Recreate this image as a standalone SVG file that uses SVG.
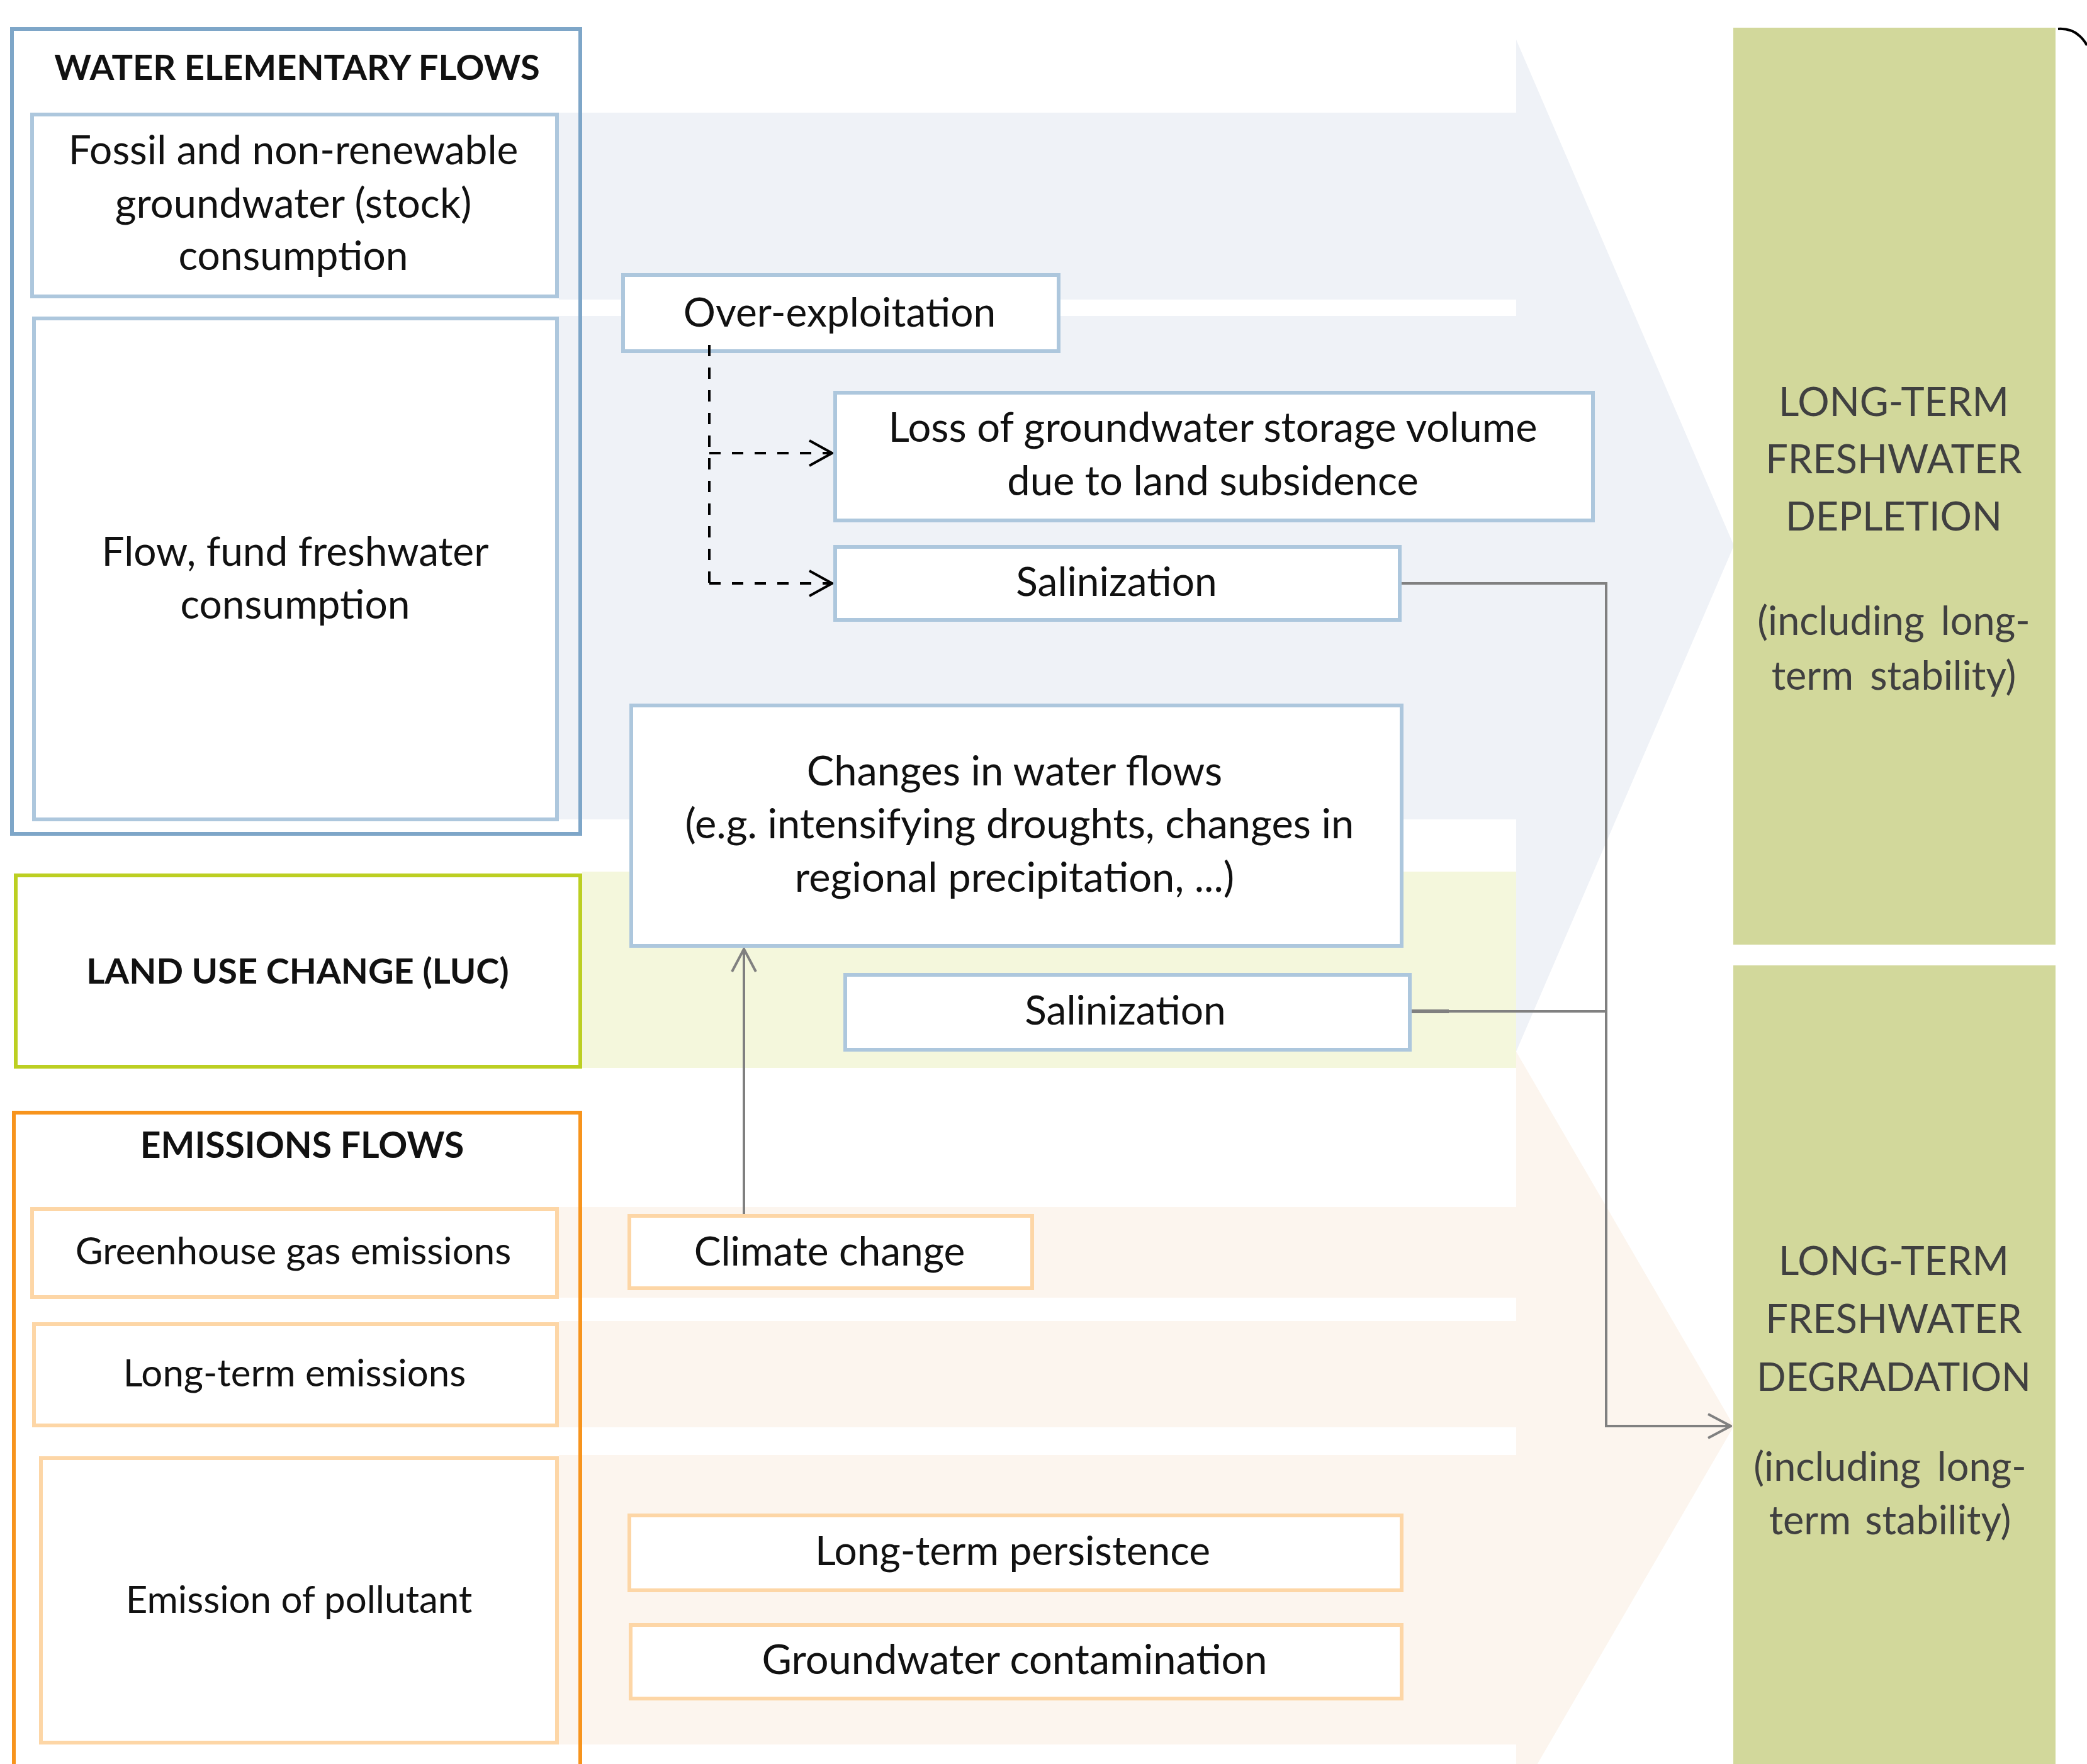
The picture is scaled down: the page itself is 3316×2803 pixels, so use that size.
<svg xmlns="http://www.w3.org/2000/svg" width="3316" height="2803" viewBox="0 0 3316 2803">
<style>
text{font-family:Lato,"Liberation Sans",sans-serif;fill:#111;text-anchor:middle}
.t64{font-size:64px}
.t65{font-size:65px}
.t60{font-size:60px}
.hb{font-size:56px;font-weight:bold}
.rp{font-size:63px;fill:#404040}
.outerBlue{fill:none;stroke:#7ea6c8;stroke-width:6}
.innerBlue{fill:#fff;stroke:#adc7dd;stroke-width:6}
.luc{fill:#fff;stroke:#bccf22;stroke-width:6}
.outerOrange{fill:none;stroke:#f7941d;stroke-width:6}
.innerOrange{fill:#fff;stroke:#fdd6a6;stroke-width:6}
.panel{fill:#d2d89b}
.dash{fill:none;stroke:#000;stroke-width:4;stroke-dasharray:18 18}
.gray{fill:none;stroke:#808080;stroke-width:4}
</style>
<defs>
<marker id="openBlack" viewBox="0 0 40 44" refX="38" refY="22" markerWidth="40" markerHeight="44" markerUnits="userSpaceOnUse" orient="auto">
<path d="M2,2 L38,22 L2,42" fill="none" stroke="#000" stroke-width="4"/>
</marker>
<marker id="openGray" viewBox="0 0 40 44" refX="38" refY="22" markerWidth="40" markerHeight="44" markerUnits="userSpaceOnUse" orient="auto">
<path d="M2,3 L38,22 L2,41" fill="none" stroke="#808080" stroke-width="4"/>
</marker>
</defs>
<rect width="3316" height="2803" fill="#fff"/>
<g id="background-arrows">
<path d="M888,179 H2409 V63 L2755,867 L2409,1671 V1302 H888 V502 H2409 V476 H888 Z" fill="#eff2f7"/>
<rect x="925" y="1385" width="1484" height="312" fill="#f4f7dc"/>
<path d="M888,1918 H2409 V1671 L2755,2266 L2409,2861 V2772 H888 V2312 H2409 V2268 H888 V2099 H2409 V2062 H888 Z" fill="#fcf5ee"/>
</g>
<g id="water-elementary-flows">
<rect class="outerBlue" x="19" y="46" width="903" height="1279"/>
<text class="hb" x="472" y="127">WATER ELEMENTARY FLOWS</text>
</g>
<g id="fossil">
<rect class="innerBlue" x="51" y="182" width="834" height="289"/>
<text class="t64" x="466" y="261">Fossil and non-renewable</text>
<text class="t65" x="466" y="346">groundwater (stock)</text>
<text class="t64" x="466" y="429">consumption</text>
</g>
<g id="flow-fund">
<rect class="innerBlue" x="54" y="506" width="831" height="796"/>
<text class="t64" x="469" y="899">Flow, fund freshwater</text>
<text class="t64" x="469" y="983">consumption</text>
</g>
<g id="luc">
<rect class="luc" x="25" y="1391" width="897" height="304"/>
<text class="hb" x="473" y="1563">LAND USE CHANGE (LUC)</text>
</g>
<g id="emissions-flows">
<rect class="outerOrange" x="22" y="1768" width="900" height="1045"/>
<text class="hb" x="480" y="1840" style="font-size:57px">EMISSIONS FLOWS</text>
</g>
<g id="greenhouse">
<rect class="innerOrange" x="51" y="1921" width="834" height="140"/>
<text class="t60" x="466" y="2009">Greenhouse gas emissions</text>
</g>
<g id="long-term-emissions">
<rect class="innerOrange" x="54" y="2104" width="831" height="161"/>
<text class="t60" x="468" y="2203">Long-term emissions</text>
</g>
<g id="emission-pollutant">
<rect class="innerOrange" x="65" y="2317" width="820" height="452"/>
<text class="t60" x="475" y="2563">Emission of pollutant</text>
</g>
<g id="over-exploitation">
<rect class="innerBlue" x="990" y="437" width="692" height="121"/>
<text class="t64" x="1334" y="519">Over-exploitation</text>
</g>
<g id="loss-storage">
<rect class="innerBlue" x="1327" y="624" width="1204" height="203"/>
<text class="t65" x="1927" y="702">Loss of groundwater storage volume</text>
<text class="t65" x="1927" y="787">due to land subsidence</text>
</g>
<g id="salinization-1">
<rect class="innerBlue" x="1327" y="869" width="897" height="116"/>
<text class="t64" x="1774" y="947">Salinization</text>
</g>
<g id="changes-water-flows">
<rect class="innerBlue" x="1003" y="1121" width="1224" height="382"/>
<text class="t65" x="1612" y="1248">Changes in water flows</text>
<text class="t65" x="1620" y="1332">(e.g. intensifying droughts, changes in</text>
<text class="t65" x="1612" y="1417">regional precipitation, ...)</text>
</g>
<g id="salinization-2">
<rect class="innerBlue" x="1343" y="1549" width="897" height="119"/>
<text class="t64" x="1788" y="1628">Salinization</text>
</g>
<g id="climate-change">
<rect class="innerOrange" x="1000" y="1932" width="640" height="115"/>
<text class="t64" x="1318" y="2011">Climate change</text>
</g>
<g id="long-term-persistence">
<rect class="innerOrange" x="1000" y="2408" width="1227" height="119"/>
<text class="t64" x="1609" y="2487">Long-term persistence</text>
</g>
<g id="groundwater-contamination">
<rect class="innerOrange" x="1002" y="2582" width="1225" height="117"/>
<text class="t65" x="1612" y="2660">Groundwater contamination</text>
</g>
<g id="freshwater-depletion">
<rect class="panel" x="2754" y="44" width="512" height="1457"/>
<text class="rp" x="3009" y="661">LONG-TERM</text>
<text class="rp" x="3009" y="752">FRESHWATER</text>
<text class="rp" x="3009" y="843">DEPLETION</text>
<text class="rp" x="3009" y="1009" word-spacing="10">(including long-</text>
<text class="rp" x="3009" y="1096" word-spacing="10">term stability)</text>
</g>
<g id="freshwater-degradation">
<rect class="panel" x="2754" y="1534" width="512" height="1280"/>
<text class="rp" x="3009" y="2026">LONG-TERM</text>
<text class="rp" x="3009" y="2118">FRESHWATER</text>
<text class="rp" x="3009" y="2210" style="font-size:61px">DEGRADATION</text>
<text class="rp" x="3003" y="2353" word-spacing="10">(including long-</text>
<text class="rp" x="3003" y="2438" word-spacing="6">term stability)</text>
</g>
<g id="connectors">
<path class="dash" d="M1127,548 V927"/>
<path class="dash" d="M1127,720 H1322" marker-end="url(#openBlack)"/>
<path class="dash" d="M1127,927 H1322" marker-end="url(#openBlack)"/>
<path class="gray" d="M1182,1929 V1508" marker-end="url(#openGray)"/>
<path class="gray" d="M2227,927 H2552 V2266 H2750" marker-end="url(#openGray)"/>
<path class="gray" d="M2243,1607 H2552"/>
<path d="M2243,1607 H2302" stroke="#808080" stroke-width="6"/>
<path d="M3270,46 Q3300,44 3316,72" fill="none" stroke="#000" stroke-width="4"/>
</g>
</svg>
